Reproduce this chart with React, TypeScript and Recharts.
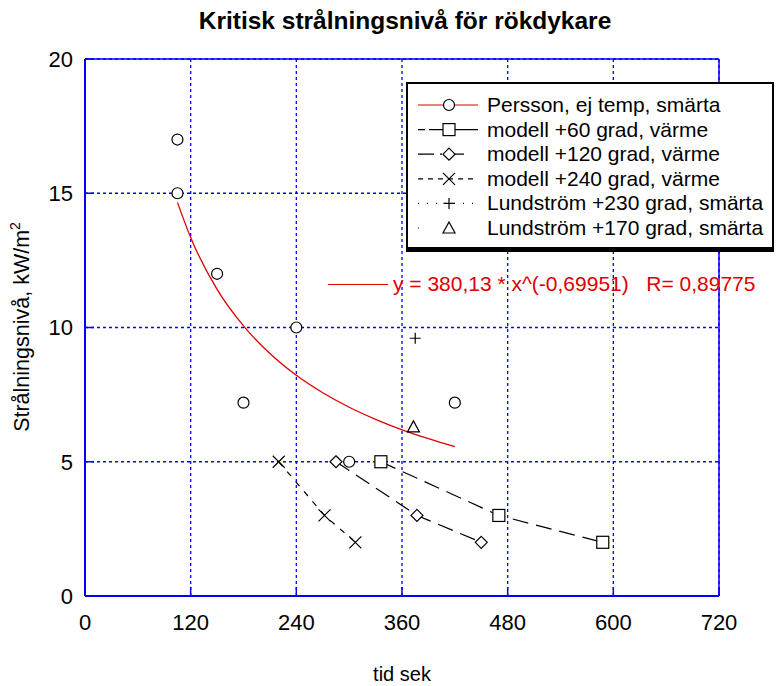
import React from 'react';
import {
  ComposedChart, Line, Scatter, XAxis, YAxis, CartesianGrid, ReferenceLine,
} from 'recharts';

const FONT = '"Liberation Sans", Arial, sans-serif';
const BLUE = '#0000ff';

// Persson, ej temp, smärta
const perssonX = [105, 105, 150, 180, 240, 300, 420];
const perssonY = [17, 15, 12, 7.2, 10, 5, 7.2];

// fitted curve
const fitX = [105, 120, 150, 180, 210, 240, 270, 300, 330, 360, 390, 420];
const fitY = [14.66, 13.35, 11.42, 10.06, 9.03, 8.22, 7.57, 7.03, 6.58, 6.19, 5.86, 5.56];

const modell60X = [336, 470, 588];
const modell60Y = [5, 3, 2];
const modell120X = [285, 377, 450];
const modell120Y = [5, 3, 2];
const modell240X = [220, 272, 307];
const modell240Y = [5, 3, 2];
const lund230X = [375];
const lund230Y = [9.6];
const lund170X = [373];
const lund170Y = [6.3];

const xTicks = [0, 120, 240, 360, 480, 600, 720];
const yTicks = [0, 5, 10, 15, 20];

const zip = (xs: number[], ys: number[]) => xs.map((x, i) => ({ x, y: ys[i] }));

type Kind = 'circle' | 'square' | 'diamond' | 'cross' | 'plus' | 'triangle';

function Marker({ cx, cy, kind }: { cx: number; cy: number; kind: Kind }) {
  const s = { fill: 'none', stroke: '#000', strokeWidth: 1.2 };
  if (kind === 'circle') return <circle cx={cx} cy={cy} r={5.5} {...s} fill="#fff" />;
  if (kind === 'square') return <rect x={cx - 6} y={cy - 6} width={12} height={12} {...s} fill="#fff" />;
  if (kind === 'diamond')
    return <path d={`M${cx},${cy - 6}L${cx + 6},${cy}L${cx},${cy + 6}L${cx - 6},${cy}Z`} {...s} fill="#fff" />;
  if (kind === 'cross')
    return <path d={`M${cx - 6},${cy - 6}L${cx + 6},${cy + 6}M${cx - 6},${cy + 6}L${cx + 6},${cy - 6}`} {...s} />;
  if (kind === 'plus')
    return <path d={`M${cx - 5.5},${cy}L${cx + 5.5},${cy}M${cx},${cy - 5.5}L${cx},${cy + 5.5}`} {...s} />;
  return <path d={`M${cx},${cy - 6}L${cx + 6},${cy + 5}L${cx - 6},${cy + 5}Z`} {...s} />;
}

const dot = (kind: Kind) => (p: any) =>
  p.cx == null ? <g key={p.key} /> : <Marker key={p.key} cx={p.cx} cy={p.cy} kind={kind} />;

const legendRows: { label: string; kind: Kind; color: string; dash: string }[] = [
  { label: 'Persson, ej temp, smärta', kind: 'circle', color: '#e00000', dash: '' },
  { label: 'modell +60 grad, värme', kind: 'square', color: '#000', dash: '7 4 60' },
  { label: 'modell +120 grad, värme', kind: 'diamond', color: '#000', dash: '16 6 2 6 16' },
  { label: 'modell +240 grad, värme', kind: 'cross', color: '#000', dash: '5 5' },
  { label: 'Lundström +230 grad, smärta', kind: 'plus', color: '#000', dash: '1 8' },
  { label: 'Lundström +170 grad, smärta', kind: 'triangle', color: '#000', dash: '1 20 0 40' },
];

function LegendBox() {
  return (
    <div style={{ position: 'absolute', left: 406, top: 82, width: 368, height: 170 }}>
      <div style={{ position: 'absolute', left: 0, top: 0, width: 368, height: 170, background: '#000' }} />
      <div style={{ position: 'absolute', left: 2, top: 2, width: 364, height: 163, background: '#fff' }} />
      <svg width={368} height={170} style={{ position: 'absolute', left: 0, top: 0 }}>
        {legendRows.map((r, i) => {
          const y = 23 + i * 24.6;
          return (
            <g key={r.label}>
              <line x1={12} x2={72} y1={y} y2={y} stroke={r.color} strokeWidth={1.2} strokeDasharray={r.dash || undefined} />
              <Marker cx={43} cy={y} kind={r.kind} />
              <text x={81} y={y + 7} fontSize={21} fontFamily={FONT} fill="#000">{r.label}</text>
            </g>
          );
        })}
      </svg>
    </div>
  );
}

export default function App() {
  return (
    <div style={{ position: 'absolute', left: 0, top: 0, width: 776, height: 686, background: '#fff', fontFamily: FONT }}>
      <ComposedChart
        width={776}
        height={686}
        margin={{ top: 59, right: 57, bottom: 0, left: 0 }}
        style={{ position: 'absolute', left: 0, top: 0 }}
      >
        <CartesianGrid stroke={BLUE} strokeWidth={1.3} strokeDasharray="3 3" />
        <XAxis
          type="number"
          dataKey="x"
          domain={[0, 720]}
          ticks={xTicks}
          interval={0}
          height={90}
          axisLine={{ stroke: BLUE, strokeWidth: 2 }}
          tickLine={{ stroke: BLUE, strokeWidth: 1.5 }}
          tickSize={-9}
          tickMargin={27}
          tick={{ fill: '#000', fontSize: 22, fontFamily: FONT }}
          allowDuplicatedCategory={false}
        />
        <YAxis
          type="number"
          dataKey="y"
          domain={[0, 20]}
          ticks={yTicks}
          interval={0}
          width={85}
          axisLine={{ stroke: BLUE, strokeWidth: 2 }}
          tickLine={{ stroke: BLUE, strokeWidth: 1.5 }}
          tickSize={-9}
          tickMargin={21}
          tick={{ fill: '#000', fontSize: 22, fontFamily: FONT }}
        />
        <ReferenceLine y={20} stroke={BLUE} strokeWidth={1.5} />
        <ReferenceLine x={720} stroke={BLUE} strokeWidth={1.5} />
        <Line data={zip(fitX, fitY)} dataKey="y" type="monotone" stroke="#e00000" strokeWidth={1.3} dot={false} isAnimationActive={false} />
        <Line data={zip(modell60X, modell60Y)} dataKey="y" stroke="#000" strokeWidth={1.2} strokeDasharray="16 8" dot={dot('square')} isAnimationActive={false} />
        <Line data={zip(modell120X, modell120Y)} dataKey="y" stroke="#000" strokeWidth={1.2} strokeDasharray="16 8" dot={dot('diamond')} isAnimationActive={false} />
        <Line data={zip(modell240X, modell240Y)} dataKey="y" stroke="#000" strokeWidth={1.2} strokeDasharray="6 7" dot={dot('cross')} isAnimationActive={false} />
        <Scatter data={zip(perssonX, perssonY)} dataKey="y" shape={(p: any) => <Marker cx={p.cx} cy={p.cy} kind="circle" />} isAnimationActive={false} />
        <Scatter data={zip(lund230X, lund230Y)} dataKey="y" shape={(p: any) => <Marker cx={p.cx} cy={p.cy} kind="plus" />} isAnimationActive={false} />
        <Scatter data={zip(lund170X, lund170Y)} dataKey="y" shape={(p: any) => <Marker cx={p.cx} cy={p.cy} kind="triangle" />} isAnimationActive={false} />
      </ComposedChart>
      <div style={{ position: 'absolute', left: 0, top: 7, width: 810, textAlign: 'center', fontSize: 24.5, fontWeight: 'bold' }}>
        Kritisk strålningsnivå för rökdykare
      </div>
      <svg width={50} height={686} style={{ position: 'absolute', left: 0, top: 0 }}>
        <text x={29} y={327} transform="rotate(-90 29 327)" textAnchor="middle" fontSize={21.5} fontFamily={FONT} fill="#000">
          Strålningsnivå, kW/m<tspan dy={-9} fontSize={14}>2</tspan>
        </text>
      </svg>
      <div style={{ position: 'absolute', left: 0, top: 663, width: 804, textAlign: 'center', fontSize: 20 }}>tid sek</div>
      <div style={{ position: 'absolute', left: 328, top: 272, fontSize: 21, color: '#e00000', whiteSpace: 'pre', display: 'flex', alignItems: 'center' }}>
        <span style={{ display: 'inline-block', width: 60, height: 1, background: '#e00000', marginRight: 5 }} />
        y = 380,13 * x^(-0,69951)   R= 0,89775
      </div>
      <LegendBox />
    </div>
  );
}
